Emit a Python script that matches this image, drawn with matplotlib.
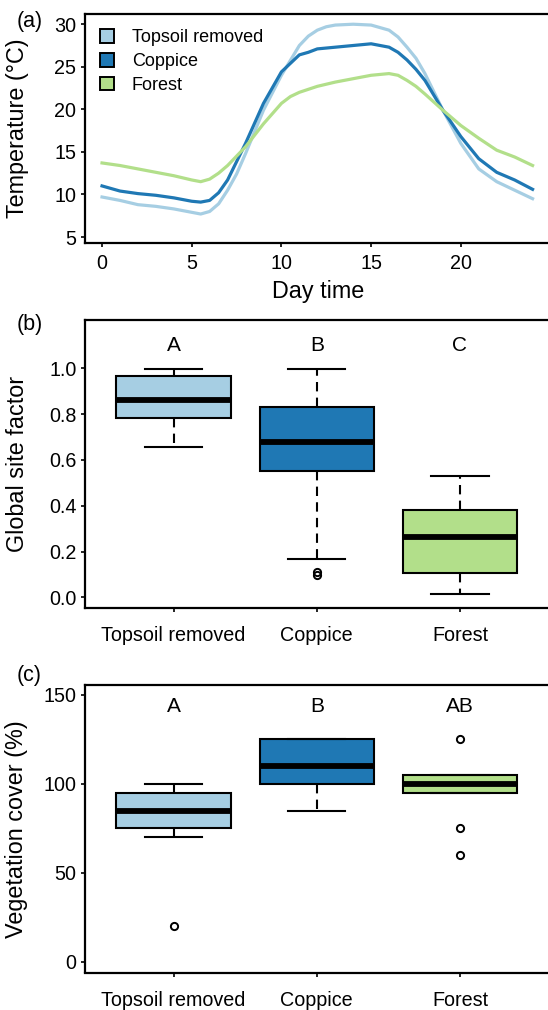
import numpy as np
import matplotlib.pyplot as plt

plt.rcParams['font.family'] = ['Liberation Sans', 'DejaVu Sans']

# (a) diurnal temperature curves
hours_topsoil = [0, 1, 2, 3, 4, 5, 5.5, 6, 6.5, 7, 7.5, 8, 9, 10, 11, 11.5, 12, 12.5,
                 13, 14, 15, 16, 16.5, 17, 17.5, 18, 19, 20, 21, 22, 23, 24]
temp_topsoil = [9.7, 9.3, 8.8, 8.6, 8.3, 7.9, 7.7, 8.0, 8.9, 10.5, 12.4, 14.8, 19.9, 24.0,
                27.5, 28.6, 29.3, 29.7, 29.9, 30.0, 29.9, 29.3, 28.5, 27.3, 26.0, 24.2,
                19.9, 16.0, 13.0, 11.5, 10.5, 9.5]
hours_coppice = [0, 1, 2, 3, 4, 5, 5.5, 6, 6.5, 7, 8, 9, 10, 10.5, 11, 11.5, 12,
                 13, 14, 15, 16, 16.5, 17, 17.5, 18, 19, 20, 21, 22, 23, 24]
temp_coppice = [11.0, 10.4, 10.1, 9.9, 9.6, 9.2, 9.1, 9.3, 10.2, 11.7, 16.0, 20.7, 24.4,
                25.4, 26.4, 26.7, 27.1, 27.3, 27.5, 27.7, 27.3, 26.7, 25.8, 24.7, 23.4,
                19.9, 16.8, 14.2, 12.6, 11.7, 10.6]
hours_forest = [0, 1, 2, 3, 4, 5, 5.5, 6, 6.5, 7, 8, 9, 10, 10.5, 11, 12,
                13, 14, 15, 16, 16.5, 17, 17.5, 18, 19, 20, 21, 22, 23, 24]
temp_forest = [13.7, 13.4, 13.0, 12.6, 12.2, 11.7, 11.5, 11.8, 12.5, 13.4, 15.6, 18.3,
               20.7, 21.5, 22.0, 22.7, 23.2, 23.6, 24.0, 24.2, 24.0, 23.4, 22.7, 21.8,
               19.9, 18.1, 16.6, 15.2, 14.4, 13.4]

groups = ["Topsoil removed", "Coppice", "Forest"]
colors = ["#a6cee3", "#1f78b4", "#b2df8a"]

# (b) global site factor box stats
gsf_whislo = [0.657, 0.166, 0.017]
gsf_q1 = [0.783, 0.551, 0.108]
gsf_med = [0.860, 0.679, 0.266]
gsf_q3 = [0.965, 0.831, 0.383]
gsf_whishi = [0.997, 0.997, 0.530]
gsf_fliers = [[], [0.112, 0.100], []]
gsf_letters = ["A", "B", "C"]

# (c) vegetation cover box stats
veg_whislo = [70, 85, 95]
veg_q1 = [75, 100, 95]
veg_med = [85, 110, 100]
veg_q3 = [95, 125, 105]
veg_whishi = [100, 125, 105]
veg_fliers = [[20], [], [125, 75, 60]]
veg_letters = ["A", "B", "AB"]

fig = plt.figure(figsize=(5.48, 10.10), dpi=100)
W, H = 548, 1010
x0, x1 = 84.8, 551.5
left, right = x0 / W, x1 / W
ax_a = fig.add_axes([left, 1 - 243.3 / H, right - left, (243.3 - 14) / H])
ax_b = fig.add_axes([left, 1 - 608 / H, right - left, (608 - 320) / H])
ax_c = fig.add_axes([left, 1 - 972.5 / H, right - left, (972.5 - 685) / H])

tick_fs = 14.2
lab_fs = 16.8


def style(ax, xpad):
    for s in ax.spines.values():
        s.set_linewidth(1.6)
    ax.tick_params(labelsize=tick_fs, width=1.2, length=3, direction="out")
    ax.tick_params(axis="x", pad=xpad)
    ax.tick_params(axis="y", pad=3)


# panel a
series = [(hours_topsoil, temp_topsoil), (hours_coppice, temp_coppice), (hours_forest, temp_forest)]
for (hh, vals), c, g in zip(series, colors, groups):
    ax_a.plot(hh, vals, color=c, lw=2.3, label=g, solid_joinstyle="round")
ax_a.set_xlim(-0.96, -0.96 + (x1 - x0) / 17.94)
ax_a.set_ylim(4.26, 31.2)
ax_a.set_xticks([0, 5, 10, 15, 20])
ax_a.set_yticks([5, 10, 15, 20, 25, 30])
ax_a.set_xlabel("Day time", fontsize=lab_fs, labelpad=5)
ax_a.set_ylabel("Temperature (°C)", fontsize=lab_fs)
ax_a.yaxis.set_label_coords((29.5 - x0) / (x1 - x0), 0.5)
style(ax_a, 5)
handles = [plt.Rectangle((0, 0), 1, 1, facecolor=c, edgecolor="black", lw=1.4) for c in colors]
ax_a.legend(handles, groups, loc="upper left", frameon=False, fontsize=13,
            handlelength=0.75, handleheight=0.75, handletextpad=1.0, labelspacing=0.38,
            borderaxespad=0.25, borderpad=0.6, bbox_to_anchor=(0.0, 1.0))


def boxes(ax, lo, q1, med, q3, hi, fliers):
    stats = []
    for i in range(3):
        stats.append(dict(whislo=lo[i], q1=q1[i], med=med[i], q3=q3[i],
                          whishi=hi[i], fliers=fliers[i]))
    bp = ax.bxp(stats, positions=[1, 2, 3], widths=0.8, capwidths=0.4,
                patch_artist=True, showfliers=True,
                boxprops=dict(edgecolor="black", linewidth=1.5),
                medianprops=dict(color="black", linewidth=4.2, solid_capstyle="butt"),
                whiskerprops=dict(color="black", linewidth=1.5, linestyle=(0, (4.5, 3))),
                capprops=dict(color="black", linewidth=1.5),
                flierprops=dict(marker="o", markersize=5.2, markerfacecolor="none",
                                markeredgecolor="black", markeredgewidth=1.4))
    for patch, c in zip(bp["boxes"], colors):
        patch.set_facecolor(c)
    ax.set_xticks([1, 2, 3])
    ax.set_xticklabels(groups)
    ax.set_xlim(0.38, 0.38 + (x1 - x0) / 143.2)
    style(ax, 10)


boxes(ax_b, gsf_whislo, gsf_q1, gsf_med, gsf_q3, gsf_whishi, gsf_fliers)
ax_b.set_ylim(-0.046, 1.211)
ax_b.set_yticks([0.0, 0.2, 0.4, 0.6, 0.8, 1.0])
ax_b.set_yticklabels(["0.0", "0.2", "0.4", "0.6", "0.8", "1.0"])
ax_b.set_ylabel("Global site factor", fontsize=lab_fs)
ax_b.yaxis.set_label_coords((29 - x0) / (x1 - x0), 0.5)
for i, t in enumerate(gsf_letters):
    ax_b.text(i + 1, 1.098, t, ha="center", va="center", fontsize=15)

boxes(ax_c, veg_whislo, veg_q1, veg_med, veg_q3, veg_whishi, veg_fliers)
ax_c.set_ylim(-6.0, 155.6)
ax_c.set_yticks([0, 50, 100, 150])
ax_c.set_ylabel("Vegetation cover (%)", fontsize=lab_fs)
ax_c.yaxis.set_label_coords((28.5 - x0) / (x1 - x0), 0.5)
for i, t in enumerate(veg_letters):
    ax_c.text(i + 1, 143.4, t, ha="center", va="center", fontsize=15)

for lab, y in zip(["(a)", "(b)", "(c)"], [22, 324, 676]):
    fig.text(29.5 / W, 1 - y / H, lab, ha="center", va="center", fontsize=15.5)

fig.savefig("out.png", dpi=100)
